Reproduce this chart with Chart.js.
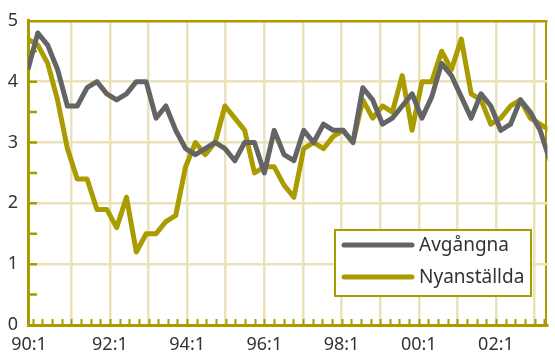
<!DOCTYPE html>
<html>
<head>
<meta charset="utf-8">
<title>Avgångna och nyanställda</title>
<script src="https://cdn.jsdelivr.net/npm/chart.js@4/dist/chart.umd.min.js"></script>
<style>
  html, body { margin: 0; padding: 0; background: #fff; }
  #wrap { width: 555px; height: 353px; }
</style>
</head>
<body>
<div id="wrap"><canvas id="flowChart"></canvas></div>
<script>
// Kvartalsdata från 90:1, procent
const avgangna = [
  4.2, 4.8, 4.6, 4.2, 3.6, 3.6, 3.9, 4.0, 3.8, 3.7, 3.8, 4.0, 4.0, 3.4,
  3.6, 3.2, 2.9, 2.8, 2.9, 3.0, 2.9, 2.7, 3.0, 3.0, 2.5, 3.2, 2.8, 2.7,
  3.2, 3.0, 3.3, 3.2, 3.2, 3.0, 3.9, 3.7, 3.3, 3.4, 3.6, 3.8, 3.4, 3.75,
  4.3, 4.1, 3.75, 3.4, 3.8, 3.6, 3.2, 3.3, 3.7, 3.5, 3.2, 2.7
];
const nyanstallda = [
  4.7, 4.6, 4.3, 3.7, 2.9, 2.4, 2.4, 1.9, 1.9, 1.6, 2.1, 1.2, 1.5, 1.5,
  1.7, 1.8, 2.6, 3.0, 2.8, 3.0, 3.6, 3.4, 3.2, 2.5, 2.6, 2.6, 2.3, 2.1,
  2.9, 3.0, 2.9, 3.1, 3.2, 3.0, 3.7, 3.4, 3.6, 3.5, 4.1, 3.2, 4.0, 4.0,
  4.5, 4.2, 4.7, 3.8, 3.7, 3.3, 3.4, 3.6, 3.7, 3.4, 3.3, 3.2
];
const seriesNames = ['Avgångna', 'Nyanställda'];
const yearLabels = ['90:1', '92:1', '94:1', '96:1', '98:1', '00:1', '02:1'];
const yTicks = [0, 1, 2, 3, 4, 5];

const olive = '#a99b00';
const gray = '#646464';
const gridLight = '#e9e2ba';
const textColor = '#333333';
const fontFamily = "'Noto Sans', sans-serif";

// x-axeln räknas i kvartal från första observationen
const xMax = 52.75;
const gridStart = 4.4;
const gridStep = 3.92;
const quarterStep = gridStep / 4;

// tickar: etikett vid axeln, årslinjer, ram till höger
const xTicks = [{ value: 0.1, label: yearLabels[0], kind: 'label' }];
for (let k = 0; gridStart + k * gridStep < xMax - 1; k++) {
  const lbl = (k % 2 === 1) ? (yearLabels[(k + 1) / 2] || '') : '';
  xTicks.push({ value: gridStart + k * gridStep, label: lbl, kind: 'grid' });
}
xTicks.push({ value: 52.6, label: '', kind: 'frame' });

const toPoints = arr => arr.map((v, i) => ({ x: i, y: v }));

const axisTicks = {
  id: 'axisTicks',
  beforeDatasetsDraw(chart) {
    const { ctx, chartArea, scales: { x, y } } = chart;
    ctx.save();
    ctx.strokeStyle = olive;
    ctx.lineWidth = 2;
    ctx.beginPath();
    for (let v = gridStart - 4 * quarterStep; v <= xMax; v += quarterStep) {
      const px = Math.round(x.getPixelForValue(v)) + 0.5;
      ctx.moveTo(px, chartArea.bottom);
      ctx.lineTo(px, chartArea.bottom - 6);
    }
    ctx.stroke();
    ctx.lineWidth = 2.5;
    ctx.beginPath();
    for (let v = 0.5; v < 5; v += 0.5) {
      const py = y.getPixelForValue(v);
      ctx.moveTo(chartArea.left, py);
      ctx.lineTo(chartArea.left + 9, py);
    }
    ctx.stroke();
    ctx.restore();
  }
};

const boxLegend = {
  id: 'boxLegend',
  afterDraw(chart) {
    const { ctx } = chart;
    const bx = 335, by = 230, bw = 196, bh = 66;
    ctx.save();
    ctx.fillStyle = '#ffffff';
    ctx.fillRect(bx, by, bw, bh);
    ctx.strokeStyle = olive;
    ctx.lineWidth = 2;
    ctx.strokeRect(bx, by, bw, bh);
    ctx.font = '19px ' + fontFamily;
    ctx.textBaseline = 'middle';
    ctx.lineCap = 'round';
    chart.data.datasets.forEach((ds, i) => {
      const ly = by + 15 + i * 32;
      ctx.strokeStyle = ds.borderColor;
      ctx.lineWidth = 5;
      ctx.beginPath();
      ctx.moveTo(bx + 9, ly);
      ctx.lineTo(bx + 77, ly);
      ctx.stroke();
      ctx.fillStyle = textColor;
      ctx.fillText(ds.label, bx + 84, ly + 1);
    });
    ctx.restore();
  }
};

const ctx = document.getElementById('flowChart').getContext('2d');
const flowChart = new Chart(ctx, {
  type: 'line',
  data: {
    datasets: [{
      label: seriesNames[0],
      data: toPoints(avgangna),
      borderColor: gray,
      borderWidth: 5,
      pointRadius: 0,
      tension: 0,
      borderJoinStyle: 'round'
    }, {
      label: seriesNames[1],
      data: toPoints(nyanstallda),
      borderColor: olive,
      borderWidth: 5,
      pointRadius: 0,
      tension: 0,
      borderJoinStyle: 'round'
    }]
  },
  options: {
    responsive: true,
    maintainAspectRatio: false,
    animation: false,
    layout: { padding: { top: 20, right: 0, left: 0, bottom: 0 } },
    plugins: {
      legend: { display: false },
      tooltip: { enabled: false }
    },
    scales: {
      x: {
        type: 'linear',
        min: 0,
        max: xMax,
        afterBuildTicks: axis => { axis.ticks = xTicks.map(t => ({ value: t.value })); },
        afterFit: axis => { axis.height = 28; },
        ticks: {
          autoSkip: false,
          maxRotation: 0,
          padding: 9,
          color: textColor,
          font: { family: fontFamily, size: 18 },
          callback: (value, index) => xTicks[index] ? xTicks[index].label : ''
        },
        grid: {
          drawTicks: false,
          color: c => {
            const t = xTicks[c.index];
            if (!t || t.kind === 'label') return 'rgba(0,0,0,0)';
            return t.kind === 'frame' ? olive : gridLight;
          },
          lineWidth: c => (xTicks[c.index] && xTicks[c.index].kind === 'frame') ? 2 : 2.5
        },
        border: { display: true, color: olive, width: 3 }
      },
      y: {
        min: 0,
        max: 5,
        afterBuildTicks: axis => { axis.ticks = yTicks.map(v => ({ value: v })); },
        afterFit: axis => { axis.width = 28; },
        ticks: {
          padding: 10,
          color: textColor,
          font: { family: fontFamily, size: 18 }
        },
        grid: {
          drawTicks: false,
          color: c => {
            if (c.tick.value === 0) return 'rgba(0,0,0,0)';
            return c.tick.value === 5 ? olive : gridLight;
          },
          lineWidth: 2.5
        },
        border: { display: true, color: olive, width: 3 }
      }
    }
  },
  plugins: [axisTicks, boxLegend]
});
</script>
</body>
</html>
